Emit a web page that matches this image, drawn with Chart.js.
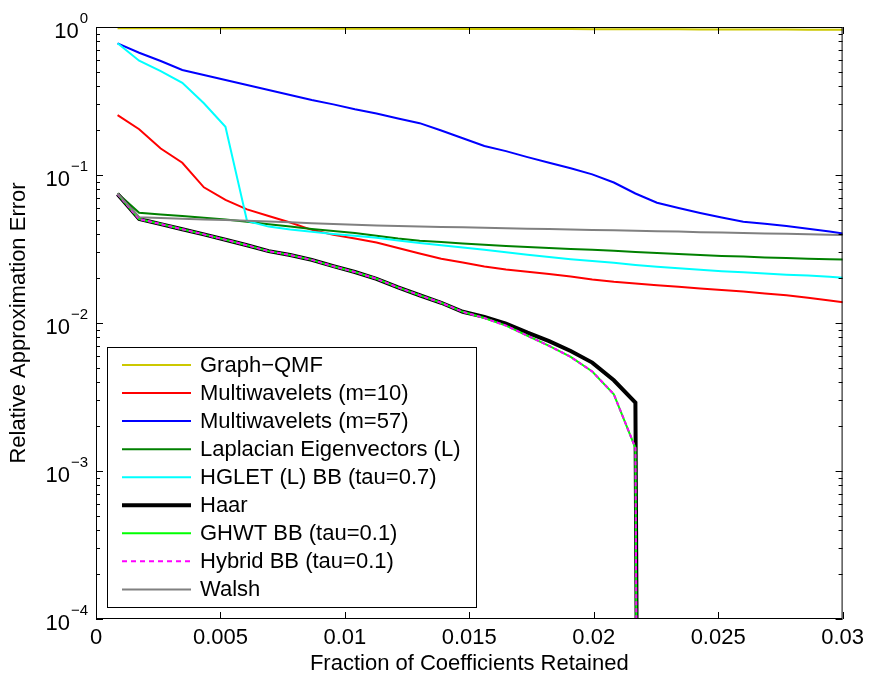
<!DOCTYPE html>
<html>
<head>
<meta charset="utf-8">
<script src="https://cdn.jsdelivr.net/npm/chart.js@4.4.0/dist/chart.umd.min.js"></script>
<style>
body { margin: 0; background: #fff; }
#wrap { width: 870px; height: 679px; position: relative; }
</style>
</head>
<body>
<div id="wrap"><canvas id="chart"></canvas></div>
<script>
// fraction of coefficients retained (x)
const fraction = [0.000867, 0.001734, 0.002601, 0.003468, 0.004335, 0.005202, 0.006069, 0.006936, 0.007803, 0.00867,
  0.009537, 0.010404, 0.011271, 0.012138, 0.013005, 0.013872, 0.014739, 0.015606, 0.016473, 0.01734,
  0.018207, 0.019074, 0.019941, 0.020808, 0.021675, 0.022542, 0.023409, 0.024276, 0.025143, 0.02601,
  0.026877, 0.027744, 0.028611, 0.029478, 0.030345]

const graphQmf = [0.98, 0.98, 0.979, 0.979, 0.978, 0.978, 0.977, 0.977, 0.976, 0.976, 0.975, 0.975, 0.974, 0.973, 0.973,
  0.972, 0.971, 0.971, 0.97, 0.969, 0.969, 0.968, 0.967, 0.966, 0.966, 0.965, 0.964, 0.963, 0.962, 0.962,
  0.961, 0.96, 0.959, 0.958, 0.957]
const multiwav10 = [0.254, 0.204, 0.151, 0.121, 0.0826, 0.0678, 0.0586, 0.0528, 0.0478, 0.0426, 0.0394, 0.0372, 0.035,
  0.0321, 0.0295, 0.0272, 0.0256, 0.0241, 0.023, 0.0222, 0.0214, 0.0206, 0.0197, 0.019, 0.0185, 0.018, 0.0176,
  0.0171, 0.0167, 0.0163, 0.0158, 0.0154, 0.0148, 0.0142, 0.0136]
const multiwav57 = [0.776, 0.67, 0.589, 0.512, 0.474, 0.438, 0.406, 0.375, 0.347, 0.321, 0.30, 0.278, 0.26, 0.241, 0.224,
  0.2, 0.177, 0.157, 0.145, 0.132, 0.121, 0.111, 0.101, 0.089, 0.075, 0.065, 0.0598, 0.0554, 0.0516, 0.0484,
  0.0468, 0.0452, 0.0434, 0.0415, 0.0395]
const laplacian = [0.0752, 0.0556, 0.0541, 0.0528, 0.0514, 0.05, 0.0483, 0.0465, 0.0448, 0.0432, 0.0419, 0.0406, 0.0388,
  0.0372, 0.036, 0.0352, 0.0344, 0.0338, 0.0331, 0.0326, 0.0321, 0.0316, 0.0312, 0.0308, 0.0302, 0.0297, 0.0292,
  0.0288, 0.0284, 0.0281, 0.0277, 0.0275, 0.0272, 0.027, 0.0268]
const hglet = [0.776, 0.592, 0.504, 0.42, 0.305, 0.212, 0.049, 0.0448, 0.0428, 0.0414, 0.04, 0.0388, 0.0377, 0.0361,
  0.0347, 0.0335, 0.0324, 0.0312, 0.0301, 0.0289, 0.0279, 0.027, 0.0262, 0.0255, 0.0247, 0.024, 0.0234, 0.0229,
  0.0224, 0.022, 0.0216, 0.0212, 0.0209, 0.0205, 0.0201]
// last entry is ~zero (exact reconstruction), drawn as a drop off the bottom
const haar = [0.0743, 0.0504, 0.0466, 0.043, 0.0397, 0.0365, 0.0335, 0.0306, 0.0288, 0.0267, 0.0242, 0.0221, 0.0199,
  0.0174, 0.0154, 0.0137, 0.0119, 0.011, 0.0099, 0.0086, 0.00755, 0.00647, 0.0054, 0.0041, 0.0029, 1e-30]
const ghwt = [0.0743, 0.0504, 0.0466, 0.043, 0.0397, 0.0365, 0.0335, 0.0306, 0.0288, 0.0267, 0.0242, 0.0221, 0.0199,
  0.0174, 0.0154, 0.0137, 0.0119, 0.0108, 0.0096, 0.0082, 0.007, 0.0059, 0.0047, 0.0033, 0.00143, 1e-30]
const hybrid = [0.0743, 0.0504, 0.0466, 0.043, 0.0397, 0.0365, 0.0335, 0.0306, 0.0288, 0.0267, 0.0242, 0.0221, 0.0199,
  0.0174, 0.0154, 0.0137, 0.0119, 0.0108, 0.0096, 0.0082, 0.007, 0.0059, 0.0047, 0.0033, 0.00143, 1e-30]
const walsh = [0.0752, 0.0518, 0.0512, 0.0507, 0.0501, 0.0496, 0.0491, 0.0485, 0.0479, 0.0472, 0.0467, 0.0461, 0.0455,
  0.0452, 0.0449, 0.0446, 0.0443, 0.044, 0.0437, 0.0434, 0.0432, 0.0428, 0.0425, 0.0423, 0.042, 0.0417, 0.0415,
  0.0411, 0.0409, 0.0406, 0.0403, 0.0401, 0.0398, 0.0395, 0.0393]

const seriesNames = ['Graph\u2212QMF', 'Multiwavelets (m=10)', 'Multiwavelets (m=57)', 'Laplacian Eigenvectors (L)',
  'HGLET (L) BB (tau=0.7)', 'Haar', 'GHWT BB (tau=0.1)', 'Hybrid BB (tau=0.1)', 'Walsh']
const xTickValues = [0, 0.005, 0.01, 0.015, 0.02, 0.025, 0.03]
const yDecades = [0, -1, -2, -3, -4]

const allSeries = [graphQmf, multiwav10, multiwav57, laplacian, hglet, haar, ghwt, hybrid, walsh]
const looks = [
  { color: 'rgb(204,200,0)', width: 2 },
  { color: '#ff0000', width: 2 },
  { color: '#0000ff', width: 2 },
  { color: '#008000', width: 2 },
  { color: '#00ffff', width: 2 },
  { color: '#000000', width: 4 },
  { color: '#00ff00', width: 2 },
  { color: '#ff00ff', width: 2, dash: [4, 3] },
  { color: '#808080', width: 2 }
]

const FONT = '"Liberation Sans", Arial, sans-serif'
Chart.defaults.font.family = FONT
Chart.defaults.color = '#000'

// box, inward ticks, y labels with superscripts and the legend inside the plot
const matlabAxes = {
  id: 'matlabAxes',
  afterDatasetsDraw(chart) {
    const ctx = chart.ctx
    const a = chart.chartArea
    const x = chart.scales.x, y = chart.scales.y
    ctx.save()
    ctx.strokeStyle = '#000'
    ctx.lineWidth = 1
    ctx.strokeRect(a.left + 0.5, a.top + 0.5, a.right - a.left - 1, a.bottom - a.top - 1)
    ctx.beginPath()
    xTickValues.forEach(v => {
      const px = Math.round(x.getPixelForValue(v)) + 0.5
      ctx.moveTo(px, a.bottom); ctx.lineTo(px, a.bottom - 7)
      ctx.moveTo(px, a.top); ctx.lineTo(px, a.top + 7)
    })
    yDecades.forEach(e => {
      for (let m = 1; m <= 9; m++) {
        const v = m * Math.pow(10, e)
        if (v > 1.0001) break
        const len = m === 1 ? 7 : 4
        const py = Math.round(y.getPixelForValue(v)) + 0.5
        ctx.moveTo(a.left, py); ctx.lineTo(a.left + len, py)
        ctx.moveTo(a.right, py); ctx.lineTo(a.right - len, py)
      }
    })
    ctx.stroke()

    // y tick labels 10^k
    ctx.fillStyle = '#000'
    yDecades.forEach(e => {
      const py = y.getPixelForValue(Math.pow(10, e))
      const sup = e === 0 ? '0' : '\u2212' + (-e)
      ctx.font = '15px ' + FONT
      ctx.textAlign = 'right'
      ctx.textBaseline = 'alphabetic'
      const supW = ctx.measureText(sup).width
      const right = a.left - 8
      ctx.fillText(sup, right, py - 4)
      ctx.font = '22px ' + FONT
      ctx.fillText('10', right - supW - 1, py + 11)
    })

    // legend
    const bx = 107, by = 347, bw = 369, bh = 260
    ctx.fillStyle = '#fff'
    ctx.fillRect(bx, by, bw, bh)
    ctx.strokeRect(bx + 0.5, by + 0.5, bw, bh)
    ctx.font = '22px ' + FONT
    ctx.textAlign = 'left'
    ctx.textBaseline = 'middle'
    seriesNames.forEach((name, i) => {
      const ry = 365 + i * 28.05
      const s = looks[i]
      ctx.beginPath()
      ctx.strokeStyle = s.color
      ctx.lineWidth = s.width
      ctx.setLineDash(s.dash ? [5, 4] : [])
      ctx.moveTo(122, ry); ctx.lineTo(191, ry)
      ctx.stroke()
      ctx.setLineDash([])
      ctx.fillStyle = '#000'
      ctx.fillText(name, 200, ry + 1)
    })
    ctx.restore()
  }
}

const datasets = allSeries.map((vals, i) => ({
  label: seriesNames[i],
  data: vals.map((v, j) => ({ x: fraction[j], y: v })),
  borderColor: looks[i].color,
  borderWidth: looks[i].width,
  borderDash: looks[i].dash || [],
  pointRadius: 0,
  tension: 0,
  fill: false,
  order: -i
}))

new Chart(document.getElementById('chart'), {
  type: 'line',
  data: { datasets: datasets },
  options: {
    responsive: true,
    maintainAspectRatio: false,
    animation: false,
    layout: { padding: { left: 0, right: 24, top: 27, bottom: 0 } },
    plugins: { legend: { display: false }, tooltip: { enabled: false } },
    scales: {
      x: {
        type: 'linear', min: 0, max: 0.03,
        afterBuildTicks: s => { s.ticks = xTickValues.map(v => ({ value: v })) },
        afterFit: s => { s.height = 60 },
        ticks: { color: '#000', font: { size: 22 }, padding: 6, maxRotation: 0, autoSkip: false,
          callback: v => String(Math.round(v * 1000) / 1000) },
        grid: { display: false, drawTicks: false },
        border: { display: false },
        title: { display: true, text: 'Fraction of Coefficients Retained', color: '#000',
          font: { size: 22 }, padding: { top: 0, bottom: 2 } }
      },
      y: {
        type: 'logarithmic', min: 1e-4, max: 1,
        afterFit: s => { s.width = 96 },
        ticks: { display: false },
        grid: { display: false, drawTicks: false },
        border: { display: false },
        title: { display: true, text: 'Relative Approximation Error', color: '#000',
          font: { size: 22 }, padding: { top: 6, bottom: 0 } }
      }
    }
  },
  plugins: [matlabAxes]
})
</script>
</body>
</html>
